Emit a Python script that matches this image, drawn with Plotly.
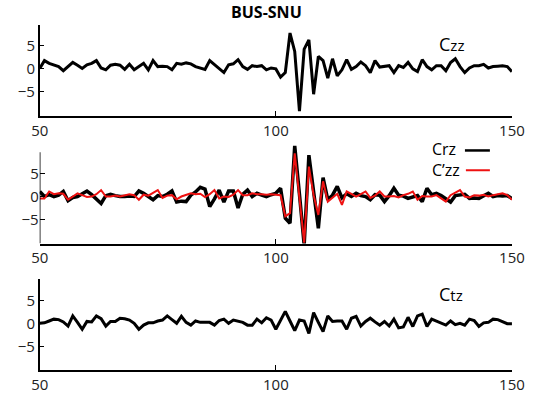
import plotly.graph_objects as go

x_vals = list(range(50, 151))

czz = [0.1, 1.8, 1.2, 0.8, 0.5, -0.4, 0.5, 1.4, 0.8, 0.1,
       0.9, 1.2, 1.8, 0.2, -0.2, 0.8, 1.0, 0.8, -0.1, 1.0,
       -0.2, 0.6, 1.2, -0.2, 1.8, 0.5, 0.6, 0.5, -0.2, 1.2,
       1.0, 1.3, 1.1, 0.5, 0.2, -0.1, 1.8, 1.0, 0.2, -0.8,
       0.9, 1.1, 2.0, 0.5, -0.1, 0.7, 0.5, 0.7, -0.2, 0.2,
       0.0, -1.8, -0.8, 7.8, 3.8, -9.2, 4.3, 6.3, -5.5, 2.7,
       1.8, -2.0, 2.2, -1.5, -0.2, 2.0, -0.1, 0.5, 1.5, 0.7,
       -0.8, 1.8, 0.4, 0.5, 0.7, -0.8, 0.7, 0.3, 1.4, 0.0,
       -0.6, 2.0, 0.5, -0.2, 0.7, 0.7, -0.4, 1.4, 2.2, 0.5,
       -0.8, 0.2, 0.7, 0.7, 1.0, 0.2, 0.5, 0.6, 0.7, 0.5,
       -0.6]

crz = [1.1, 0.0, 0.4, 0.0, 0.3, 1.1, -0.9, -0.2, 0.0, 0.6,
       1.2, 0.4, -0.5, -1.5, 0.2, 0.5, 0.2, 0.0, 0.0, 0.1,
       0.0, 1.2, 0.7, 0.0, -0.7, 0.2, 0.0, 0.5, 1.2, -1.2,
       -1.0, -1.1, 0.3, 1.0, 2.0, 1.6, -2.2, -0.5, 1.4, -1.2,
       1.2, 1.2, -2.5, 0.5, 1.4, 0.0, 0.7, 0.3, 0.0, 0.4,
       0.7, 1.8, -4.7, -5.8, 11.0, 0.5, -10.5, 9.0, 0.5, -6.9,
       4.1, -0.7, 0.3, 2.2, -0.3, 0.6, 0.0, 0.7, 0.2, 0.0,
       -0.7, 0.4, 0.3, -1.1, 0.2, 1.8, 0.3, 0.1, -0.4, 0.0,
       0.2, -1.1, 1.8, 0.4, 0.7, 0.2, -0.4, -1.2, 0.2, 0.4,
       0.5, -0.4, -0.3, -0.4, 0.2, 0.7, 0.0, 0.2, 0.1, 0.2,
       -0.4]

czz_prime = [-0.4, -0.4, 1.1, 0.5, 0.7, 0.6, -0.7, 0.0, 0.7, 0.3,
             -0.1, 0.0, 0.5, 1.4, 0.0, 0.0, 0.2, 0.0, 0.3, 0.5,
             0.3, -0.7, 0.4, 0.2, 0.8, 1.4, -0.3, 0.2, 0.3, -0.6,
             0.0, 0.4, 0.7, 0.5, 0.6, -0.1, 0.5, 1.4, -0.4, 0.0,
             -0.1, 0.4, 1.4, 0.3, 0.3, 0.7, 0.5, 0.5, 0.4, 0.5,
             0.4, 0.3, -4.3, -3.6, 9.4, 0.0, -10.0, 6.5, 0.3, -4.0,
             3.3, -1.1, -0.3, 0.6, -1.8, 1.1, 0.6, 0.0, 0.5, 1.1,
             -0.3, 0.2, 1.1, 0.0, 0.0, 0.1, -0.2, 0.3, 0.6, 1.1,
             -0.7, 0.1, 0.0, 0.0, 0.3, -0.4, -1.1, 0.3, 0.9, 1.4,
             0.0, -0.2, 0.3, 0.2, 0.4, 0.0, 0.3, 0.5, 0.7, 0.3,
             -0.7]

ctz = [0.0, 0.1, 0.5, 0.9, 0.8, 0.3, -0.6, 1.6, 0.2, -1.3,
       0.4, 0.3, 1.6, 1.0, -0.6, 0.4, 0.4, 1.1, 1.0, 0.7,
       0.0, -1.3, -0.4, 0.1, 0.1, 0.5, 0.7, 1.6, 0.8, 0.0,
       1.5, 0.2, -0.4, 0.5, 0.2, 0.2, 0.2, -0.4, 0.6, 0.9,
       0.0, 0.7, 0.5, 0.2, -0.4, -0.4, 0.9, 0.1, 1.2, 0.7,
       -1.3, 0.6, 2.6, 0.5, -1.6, 0.7, 0.5, -2.2, 2.3, 0.2,
       -1.8, 1.6, 0.4, 0.5, 0.5, -1.3, 1.1, 1.5, -0.6, 0.4,
       1.1, 0.3, -0.4, 0.4, -0.6, 0.9, -1.0, -0.8, 1.3, -0.7,
       1.6, 2.0, -0.7, 0.9, 0.5, 0.1, -0.4, 0.5, -0.3, 0.0,
       -0.4, 0.9, 0.6, -0.7, 0.1, 0.2, 0.9, 0.8, 0.4, -0.1,
       -0.1]

x_ticks = [50, 100, 150]
y_ticks = [-5, 0, 5]

W, H = 548, 394
FONT = "Open Sans"
TICKFONT = dict(family=FONT, size=15, color="#222222")


def px_x(p):
    return p / W


def px_y(p):
    return 1 - p / H


fig = go.Figure()
fig.add_trace(go.Scatter(x=x_vals, y=czz, mode="lines", line=dict(color="black", width=3),
                         xaxis="x", yaxis="y", showlegend=False))
fig.add_trace(go.Scatter(x=x_vals, y=crz, mode="lines", line=dict(color="black", width=3.5),
                         xaxis="x2", yaxis="y2", showlegend=False))
fig.add_trace(go.Scatter(x=x_vals, y=czz_prime, mode="lines", line=dict(color="#ee1111", width=2),
                         xaxis="x2", yaxis="y2", showlegend=False))
fig.add_trace(go.Scatter(x=x_vals, y=ctz, mode="lines", line=dict(color="black", width=3),
                         xaxis="x3", yaxis="y3", showlegend=False))

xdom = [px_x(32), px_x(524)]


def pd(top, bottom):
    return [px_y(bottom), px_y(top)]


def xax(anchor):
    return dict(domain=xdom, range=[50, 150], anchor=anchor, tickvals=x_ticks,
                showline=True, linecolor="black", linewidth=1.5, ticks="inside",
                ticklen=5, tickcolor="black", showgrid=False, zeroline=False,
                tickfont=TICKFONT)


def yax(anchor, dom, rng, showline=True):
    return dict(domain=dom, range=rng, anchor=anchor, tickvals=y_ticks,
                showline=showline, linecolor="black", linewidth=1.5, ticks="inside",
                ticklen=5, tickcolor="black", showgrid=False, zeroline=False,
                tickfont=TICKFONT)


fig.update_layout(
    width=W, height=H,
    margin=dict(l=0, r=0, t=0, b=0),
    paper_bgcolor="white", plot_bgcolor="white",
    hovermode=False,
    xaxis=xax("y"), yaxis=yax("x", pd(25, 117), [-10.2, 9.6]),
    xaxis2=xax("y2"), yaxis2=yax("x2", pd(146, 246), [-10.2, 11.3], showline=False),
    xaxis3=xax("y3"), yaxis3=yax("x3", pd(282, 374), [-10.2, 9.6]),
)

# y-axis line for middle panel (shorter than the plotting area)
fig.add_shape(type="line", xref="x2", yref="y2", x0=50, x1=50, y0=-10.2, y1=9.6,
              line=dict(color="black", width=1.5))

# title
fig.add_annotation(text="<b>BUS-SNU</b>", xref="paper", yref="paper", x=px_x(268), y=px_y(12),
                   showarrow=False, xanchor="center", yanchor="middle",
                   font=dict(family=FONT, size=16, color="black"))


def label(txt, xpx, ypx, size=15):
    fig.add_annotation(text=txt, xref="paper", yref="paper",
                       x=px_x(xpx), y=px_y(ypx), showarrow=False, xanchor="left", yanchor="middle",
                       align="left", borderpad=0,
                       font=dict(family=FONT, size=size, color="black"))


C = "<span style='font-size:18px'>C</span>"
label(C + "zz", 447, 44)
label(C + "tz", 447, 297)
label("Crz", 440, 151, size=16)
label("C’zz", 440, 172, size=16)

fig.add_shape(type="line", xref="paper", yref="paper", x0=px_x(475), x1=px_x(501),
              y0=px_y(152), y1=px_y(152), line=dict(color="black", width=2.5))
fig.add_shape(type="line", xref="paper", yref="paper", x0=px_x(476), x1=px_x(501),
              y0=px_y(172), y1=px_y(172), line=dict(color="#ee1111", width=2))

fig.write_html("out.html", config={"displayModeBar": False},
               post_script="document.body.style.margin='0px';")
